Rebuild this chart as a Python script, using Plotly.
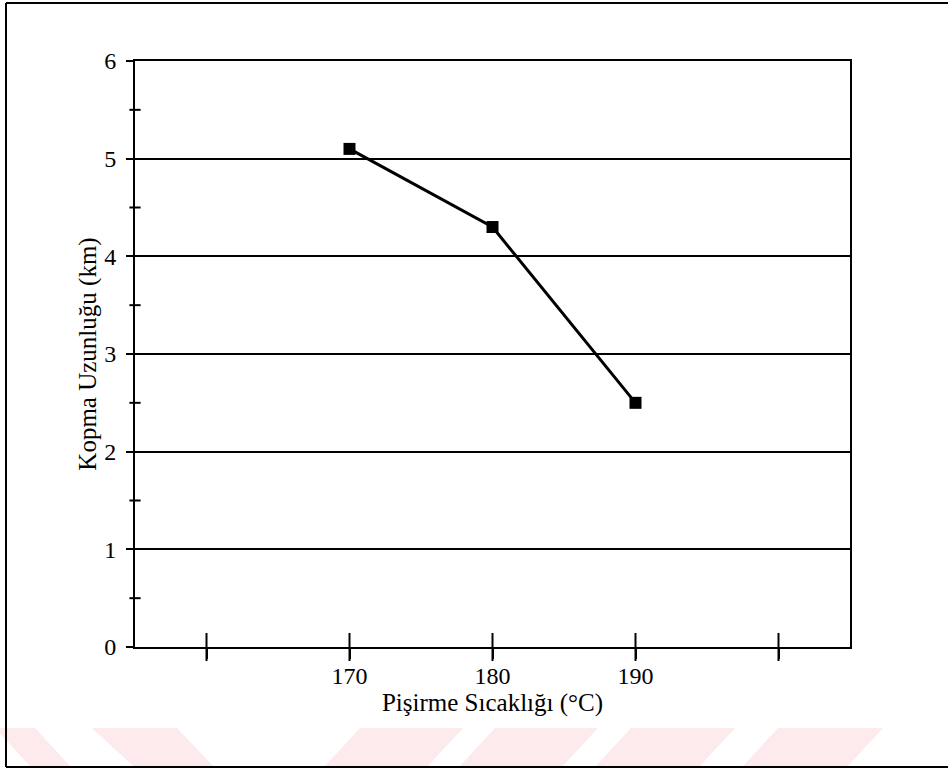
import plotly.graph_objects as go

# ---- data ----
temps = [170, 180, 190]
kopma = [5.1, 4.3, 2.5]
x_tickvals = [160, 170, 180, 190, 200]
x_ticktext = ["", "170", "180", "190", ""]
y_tickvals = [0, 1, 2, 3, 4, 5, 6]
y_minor = [0.5, 1.5, 2.5, 3.5, 4.5, 5.5]
x_range = [155, 205]
y_range = [0, 6]
x_title = "Pişirme Sıcaklığı (°C)"
y_title = "Kopma Uzunluğu (km)"

W, H = 948, 772
L, R, T, B = 135, 98, 61, 125
PW, PH = W - L - R, H - T - B

def px(x):
    return (x - L) / PW

def py(y):
    return (H - B - y) / PH

FONT = "Liberation Serif"

fig = go.Figure()
# crossing tick marks on the x axis (at tick values, on the axis baseline)
fig.add_trace(go.Scatter(
    x=x_tickvals, y=[y_range[0]] * len(x_tickvals), mode="markers",
    marker=dict(symbol="line-ns", size=20, line=dict(color="black", width=2)),
    cliponaxis=False, showlegend=False, hoverinfo="skip"))
# crossing minor tick marks on the y axis
fig.add_trace(go.Scatter(
    x=[x_range[0]] * len(y_minor), y=y_minor, mode="markers",
    marker=dict(symbol="line-ew", size=8, line=dict(color="black", width=2)),
    cliponaxis=False, showlegend=False, hoverinfo="skip"))
# data
fig.add_trace(go.Scatter(
    x=temps, y=kopma, mode="lines+markers",
    line=dict(color="black", width=3),
    marker=dict(symbol="square", size=12, color="black"),
    showlegend=False, hoverinfo="x+y"))

shapes = []
# watermark bands (decorative)
pink = "rgba(250,205,212,0.42)"
y_top, y_bot = 728, 766
bands = [
    ((-5, 35), (30, 70)),
    ((92, 177), (133, 213)),
    ((360, 463), (325, 428)),
    ((495, 598), (460, 563)),
    ((631, 735), (596, 700)),
    ((778, 883), (743, 848)),
]
for (t0, t1), (b0, b1) in bands:
    path = (f"M {px(t0)} {py(y_top)} L {px(t1)} {py(y_top)} "
            f"L {px(b1)} {py(y_bot)} L {px(b0)} {py(y_bot)} Z")
    shapes.append(dict(type="path", xref="paper", yref="paper", path=path,
                       fillcolor=pink, line=dict(width=0), layer="below"))
# outer frame (decorative)
for (x0, y0, x1, y1) in [(6, 3, 948, 3), (6, 3, 6, 767), (6, 767, 948, 767)]:
    shapes.append(dict(type="line", xref="paper", yref="paper",
                       x0=px(x0), y0=py(y0), x1=px(x1), y1=py(y1),
                       line=dict(color="black", width=2)))

fig.update_layout(
    width=W, height=H,
    margin=dict(l=L, r=R, t=T, b=B),
    paper_bgcolor="white", plot_bgcolor="white",
    font=dict(family=FONT, color="black", size=22),
    shapes=shapes,
    xaxis=dict(
        range=x_range, tickvals=x_tickvals, ticktext=x_ticktext,
        ticks="outside", ticklen=10, tickwidth=2, tickcolor="black",
        ticklabelstandoff=-4,
        showline=True, linecolor="black", linewidth=2, mirror=True,
        showgrid=False, zeroline=False,
        tickfont=dict(family=FONT, size=24, color="black"),
        title=dict(text=x_title, font=dict(family=FONT, size=25, color="black"), standoff=0),
    ),
    yaxis=dict(
        range=y_range, tickvals=y_tickvals,
        ticks="outside", ticklen=7, tickwidth=2, tickcolor="black",
        showline=True, linecolor="black", linewidth=2, mirror=True,
        showgrid=True, gridcolor="black", gridwidth=2, zeroline=False,
        ticklabelstandoff=5,
        tickfont=dict(family=FONT, size=24, color="black"),
        title=dict(text=y_title, font=dict(family=FONT, size=25, color="black"), standoff=0),
    ),
)

fig.write_html("out.html")
